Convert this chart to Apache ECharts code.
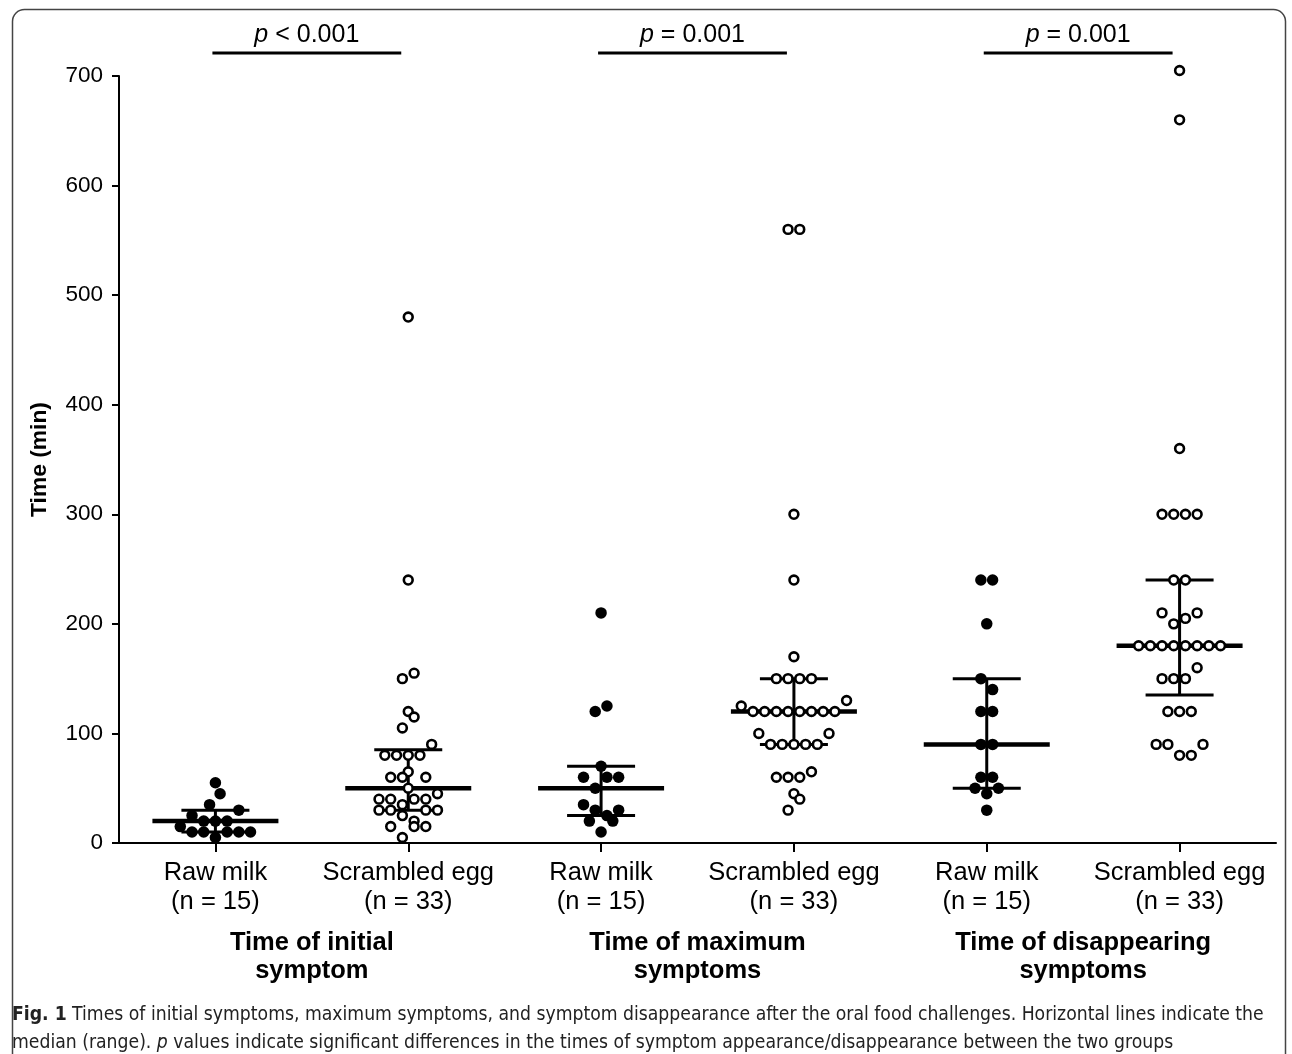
<!DOCTYPE html>
<html>
<head>
<meta charset="utf-8">
<script src="https://cdn.jsdelivr.net/npm/echarts@6/dist/echarts.min.js"></script>
<style>
html,body{margin:0;padding:0;background:#fff;}
#chart{width:1292px;height:1054px;}
</style>
</head>
<body>
<div id="chart"></div>
<script>
// ---------- data ----------
const categories = ['Raw milk\n(n = 15)', 'Scrambled egg\n(n = 33)', 'Raw milk\n(n = 15)', 'Scrambled egg\n(n = 33)', 'Raw milk\n(n = 15)', 'Scrambled egg\n(n = 33)'];
const groupTitles = ['Time of initial\nsymptom', 'Time of maximum\nsymptoms', 'Time of disappearing\nsymptoms'];
const yTicks = [0, 100, 200, 300, 400, 500, 600, 700];

// values (min) and beeswarm slot offsets for each group
const rawInitial     = [55, 45, 35, 30, 25, 20, 20, 20, 15, 10, 10, 10, 10, 10, 5];
const rawInitialSlot = [0, 0.4, -0.5, 2, -2, -1, 0, 1, -3, -2, -1, 1, 2, 3, 0];

const eggInitial     = [480, 240, 155, 150, 120, 115, 105, 90, 80, 80, 80, 80, 65, 60, 60, 60, 50, 45, 40, 40, 40, 40, 35, 30, 30, 30, 30, 25, 20, 15, 15, 15, 5];
const eggInitialSlot = [0, 0, 0.5, -0.5, 0, 0.5, -0.5, 2, -2, -1, 0, 1, 0, -1.5, -0.5, 1.5, 0, 2.5, -2.5, -1.5, 0.5, 1.5, -0.5, -2.5, -1.5, 1.5, 2.5, -0.5, 0.5, -1.5, 0.5, 1.5, -0.5];

const rawMax     = [210, 125, 120, 70, 60, 60, 60, 50, 35, 30, 30, 25, 20, 20, 10];
const rawMaxSlot = [0, 0.5, -0.5, 0, -1.5, 0.5, 1.5, -0.5, -1.5, -0.5, 1.5, 0.5, -1, 1, 0];

const eggMax     = [560, 560, 300, 240, 170, 150, 150, 150, 150, 130, 125, 120, 120, 120, 120, 120, 120, 120, 120, 100, 100, 90, 90, 90, 90, 90, 65, 60, 60, 60, 45, 40, 30];
const eggMaxSlot = [-0.5, 0.5, 0, 0, 0, -1.5, -0.5, 0.5, 1.5, 4.5, -4.5, -3.5, -2.5, -1.5, -0.5, 0.5, 1.5, 2.5, 3.5, -3, 3, -2, -1, 0, 1, 2, 1.5, -1.5, -0.5, 0.5, 0, 0.5, -0.5];

const rawDis     = [240, 240, 200, 150, 140, 120, 120, 90, 90, 60, 60, 50, 50, 45, 30];
const rawDisSlot = [-0.5, 0.5, 0, -0.5, 0.5, -0.5, 0.5, -0.5, 0.5, -0.5, 0.5, -1, 1, 0, 0];

const eggDis     = [705, 660, 360, 300, 300, 300, 300, 240, 240, 210, 210, 205, 200, 180, 180, 180, 180, 180, 180, 180, 180, 160, 150, 150, 150, 120, 120, 120, 90, 90, 90, 80, 80];
const eggDisSlot = [0, 0, 0, -1.5, -0.5, 0.5, 1.5, -0.5, 0.5, -1.5, 1.5, 0.5, -0.5, -3.5, -2.5, -1.5, -0.5, 0.5, 1.5, 2.5, 3.5, 1.5, -1.5, -0.5, 0.5, -1, 0, 1, -2, -1, 2, 0, 1];

// [lower, median, upper] per group
const lowerBars  = [10, 30, 25, 90, 50, 135];
const medianBars = [20, 50, 50, 120, 90, 180];
const upperBars  = [30, 85, 70, 150, 150, 240];

// p-value comparisons: [groupA, groupB, label]
const pFrom = [1, 3, 5];
const pTo = [2, 4, 6];
const pLabels = ['< 0.001', '= 0.001', '= 0.001'];

// ---------- build ----------
const SLOT = 11.7 / 192.8; // slot width in axis units
function swarm(vals, slots, g) {
  return vals.map((v, i) => [g + slots[i] * SLOT, v]);
}
const filled = [].concat(
  swarm(rawInitial, rawInitialSlot, 1),
  swarm(rawMax, rawMaxSlot, 3),
  swarm(rawDis, rawDisSlot, 5)
);
const open = [].concat(
  swarm(eggInitial, eggInitialSlot, 2),
  swarm(eggMax, eggMaxSlot, 4),
  swarm(eggDis, eggDisSlot, 6)
);
const barData = lowerBars.map((lo, i) => [i + 1, lo, medianBars[i], upperBars[i]]);
const pData = pFrom.map((a, i) => [a, pTo[i], pLabels[i]]);

const FONT = '"Liberation Sans", Arial, Helvetica, sans-serif';
const CAPFONT = '"Liberation Sans Narrow", "DejaVu Sans Condensed", "Open Sans", sans-serif';
const chart = echarts.init(document.getElementById('chart'), null, {renderer: 'canvas'});

chart.setOption({
  backgroundColor: '#fff',
  animation: false,
  grid: {left: 119, right: 16, top: 76, bottom: 211, containLabel: false},
  xAxis: [
    {
      type: 'value', min: 0.5, max: 6.5, show: true,
      axisLine: {show: true, lineStyle: {color: '#000', width: 2}},
      axisTick: {show: false}, axisLabel: {show: false}, splitLine: {show: false}
    },
    {
      type: 'category', data: categories, position: 'bottom', boundaryGap: true,
      axisLine: {show: false},
      axisTick: {show: true, alignWithLabel: true, interval: 0, length: 9, lineStyle: {color: '#000', width: 2}},
      axisLabel: {show: true, interval: 0, margin: 15, fontFamily: FONT, fontSize: 25.5, lineHeight: 29, color: '#000'},
      splitLine: {show: false}
    },
    {
      type: 'category', data: groupTitles, position: 'bottom', boundaryGap: true,
      axisLine: {show: false}, axisTick: {show: false},
      axisLabel: {show: true, interval: 0, margin: 86, fontFamily: FONT, fontSize: 25.5, fontWeight: 'bold', lineHeight: 28, color: '#000'},
      splitLine: {show: false}
    }
  ],
  yAxis: {
    type: 'value', min: yTicks[0], max: yTicks[yTicks.length - 1], interval: 100,
    name: 'Time (min)', nameLocation: 'middle', nameRotate: 90, nameGap: 68,
    nameTextStyle: {fontFamily: FONT, fontSize: 22.8, fontWeight: 'bold', color: '#000'},
    axisLine: {show: true, lineStyle: {color: '#000', width: 2}},
    axisTick: {show: true, length: 7, lineStyle: {color: '#000', width: 2}},
    axisLabel: {margin: 16, fontFamily: FONT, fontSize: 22.5, color: '#000'},
    splitLine: {show: false}
  },
  series: [
    {
      type: 'custom', name: 'bars', xAxisIndex: 0, data: barData, z: 2,
      renderItem: function (params, api) {
        const x = api.value(0);
        const lo = api.coord([x, api.value(1)]);
        const md = api.coord([x, api.value(2)]);
        const hi = api.coord([x, api.value(3)]);
        const cx = lo[0];
        const ls = {stroke: '#000', lineWidth: 3};
        return {
          type: 'group',
          children: [
            {type: 'line', shape: {x1: cx, y1: lo[1], x2: cx, y2: hi[1]}, style: ls},
            {type: 'line', shape: {x1: cx - 34, y1: lo[1], x2: cx + 34, y2: lo[1]}, style: ls},
            {type: 'line', shape: {x1: cx - 34, y1: hi[1], x2: cx + 34, y2: hi[1]}, style: ls},
            {type: 'line', shape: {x1: cx - 63, y1: md[1], x2: cx + 63, y2: md[1]}, style: {stroke: '#000', lineWidth: 4.5}}
          ]
        };
      }
    },
    {
      type: 'scatter', name: 'Raw milk', xAxisIndex: 0, data: filled, z: 3, clip: false,
      symbol: 'circle', symbolSize: 11.5,
      itemStyle: {color: '#000', borderWidth: 0, opacity: 1}
    },
    {
      type: 'scatter', name: 'Scrambled egg', xAxisIndex: 0, data: open, z: 3, clip: false,
      symbol: 'circle', symbolSize: 8.8,
      itemStyle: {color: '#fff', borderColor: '#000', borderWidth: 2.6, opacity: 1}
    },
    {
      type: 'custom', name: 'p', xAxisIndex: 0, data: pData, clip: false, z: 4,
      renderItem: function (params, api) {
        const a = api.coord([api.value(0), 700]);
        const b = api.coord([api.value(1), 700]);
        const y = a[1] - 23;
        const x1 = a[0] - 3, x2 = b[0] - 7;
        return {
          type: 'group',
          children: [
            {type: 'line', shape: {x1: x1, y1: y, x2: x2, y2: y}, style: {stroke: '#000', lineWidth: 3}},
            {type: 'text', x: (x1 + x2) / 2, y: y - 18,
              style: {
                text: '{i|p} ' + pLabels[params.dataIndex],
                align: 'center', verticalAlign: 'middle',
                fontFamily: FONT, fontSize: 25, fill: '#000',
                rich: {i: {fontStyle: 'italic', fontFamily: FONT, fontSize: 25}}
              }}
          ]
        };
      }
    }
  ],
  graphic: [
    {
      type: 'rect', left: 10, top: 7, z: -1, silent: true,
      shape: {width: 1273, height: 1070, r: 12},
      style: {fill: 'none', stroke: '#444', lineWidth: 1.5}
    },
    {
      type: 'text', left: 12, top: 1006,
      style: {
        text: '{b|Fig. 1} Times of initial symptoms, maximum symptoms, and symptom disappearance after the oral food challenges. Horizontal lines indicate the',
        fontFamily: CAPFONT, fontSize: 19.2, fill: '#222',
        rich: {b: {fontWeight: 'bold', fontFamily: CAPFONT, fontSize: 19.2, fill: '#222'}}
      }
    },
    {
      type: 'text', left: 12, top: 1034,
      style: {
        text: 'median (range). {i|p} values indicate significant differences in the times of symptom appearance/disappearance between the two groups',
        fontFamily: CAPFONT, fontSize: 19.2, fill: '#222',
        rich: {i: {fontStyle: 'italic', fontFamily: CAPFONT, fontSize: 19.2, fill: '#222'}}
      }
    }
  ]
});
</script>
</body>
</html>
